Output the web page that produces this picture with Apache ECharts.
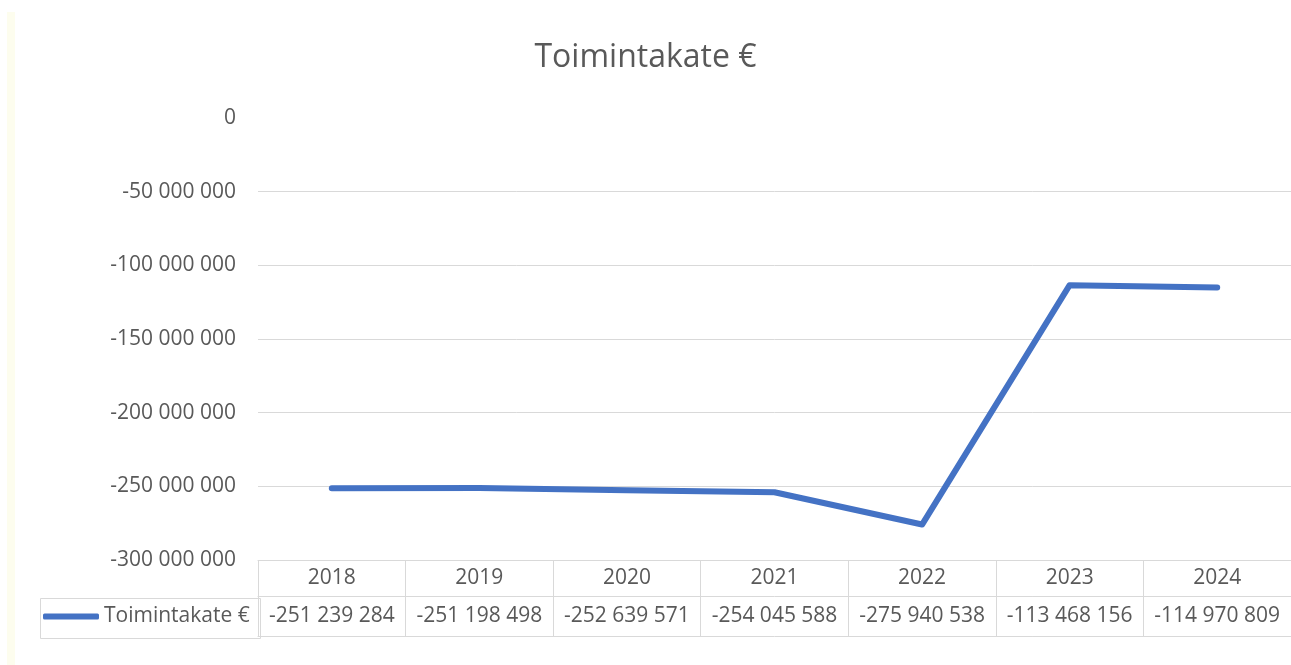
<!DOCTYPE html>
<html>
<head>
<meta charset="utf-8">
<script src="https://cdn.jsdelivr.net/npm/echarts@6/dist/echarts.min.js"></script>
<style>
  html, body { margin: 0; padding: 0; background: #fff; }
  #chart { width: 1291px; height: 665px; }
</style>
</head>
<body>
<div id="chart"></div>
<script>
// data
const years = ['2018', '2019', '2020', '2021', '2022', '2023', '2024']
const toimintakate = [-251239284, -251198498, -252639571, -254045588, -275940538, -113468156, -114970809]
const seriesName = 'Toimintakate €'
const yTicks = [-300000000, -250000000, -200000000, -150000000, -100000000, -50000000, 0]

const gridColor = '#d9d9d9'
const textColor = '#595959'
const font = '"Open Sans", "Noto Sans", sans-serif'

// 1 234 567 style
const fmt = v => (v < 0 ? '-' : '') + String(Math.abs(v)).replace(/\B(?=(\d{3})+(?!\d))/g, ' ')

const chart = echarts.init(document.getElementById('chart'))

const option = {
  backgroundColor: '#fff',
  animation: false,
  textStyle: { fontFamily: font },
  title: {
    text: seriesName,
    left: 'center',
    top: 37,
    textStyle: { fontFamily: font, fontSize: 32, fontWeight: 'normal', color: textColor }
  },
  legend: {
    data: [seriesName],
    left: 43,
    top: 606,
    padding: 0,
    icon: 'roundRect',
    itemWidth: 56,
    itemHeight: 6,
    textStyle: { fontFamily: font, fontSize: 21, color: textColor }
  },
  grid: { left: 258, right: 0, top: 118, bottom: 105 },
  xAxis: [
    {
      // data table: year row + value row, column borders from the ticks
      type: 'category',
      data: years,
      position: 'bottom',
      axisLine: { show: true, onZero: false, lineStyle: { color: gridColor, width: 1 } },
      axisTick: { show: true, interval: 0, length: 76, lineStyle: { color: gridColor } },
      axisLabel: {
        interval: 0,
        margin: 0,
        formatter: (v, i) => '{y|' + v + '}\n{v|' + fmt(toimintakate[i]) + '}',
        rich: {
          y: { fontSize: 21, lineHeight: 36, color: textColor, fontFamily: font },
          v: { fontSize: 21, lineHeight: 40, color: textColor, fontFamily: font }
        }
      }
    },
    {
      // line between the two table rows
      type: 'category',
      data: years,
      position: 'bottom',
      offset: 36,
      axisLine: { show: true, onZero: false, lineStyle: { color: gridColor, width: 1 } },
      axisTick: { show: false },
      axisLabel: { show: false }
    },
    {
      // bottom border of the table
      type: 'category',
      data: years,
      position: 'bottom',
      offset: 76,
      axisLine: { show: true, onZero: false, lineStyle: { color: gridColor, width: 1 } },
      axisTick: { show: false },
      axisLabel: { show: false }
    }
  ],
  yAxis: {
    type: 'value',
    min: yTicks[0],
    max: yTicks[yTicks.length - 1],
    interval: 50000000,
    axisLine: { show: false },
    axisTick: { show: false },
    axisLabel: { margin: 22, fontSize: 21, color: textColor, fontFamily: font, formatter: v => fmt(v) },
    splitLine: {
      show: true,
      lineStyle: {
        color: yTicks.map(t => (t === 0 ? 'rgba(0,0,0,0)' : gridColor)),
        width: 1
      }
    }
  },
  graphic: [
    {
      type: 'rect',
      left: 7, top: 12,
      shape: { width: 8, height: 653 },
      style: { fill: '#fdfdee' },
      silent: true
    },
    {
      // legend cell of the data table
      type: 'rect',
      left: 38, top: 596,
      shape: { width: 220, height: 40 },
      style: { fill: 'none', stroke: gridColor, lineWidth: 1 },
      silent: true
    }
  ],
  series: [
    {
      name: seriesName,
      type: 'line',
      data: toimintakate,
      symbol: 'none',
      lineStyle: { color: '#4472c4', width: 6, cap: 'round', join: 'round' },
      itemStyle: { color: '#4472c4' }
    }
  ]
}

option && chart.setOption(option)
</script>
</body>
</html>
